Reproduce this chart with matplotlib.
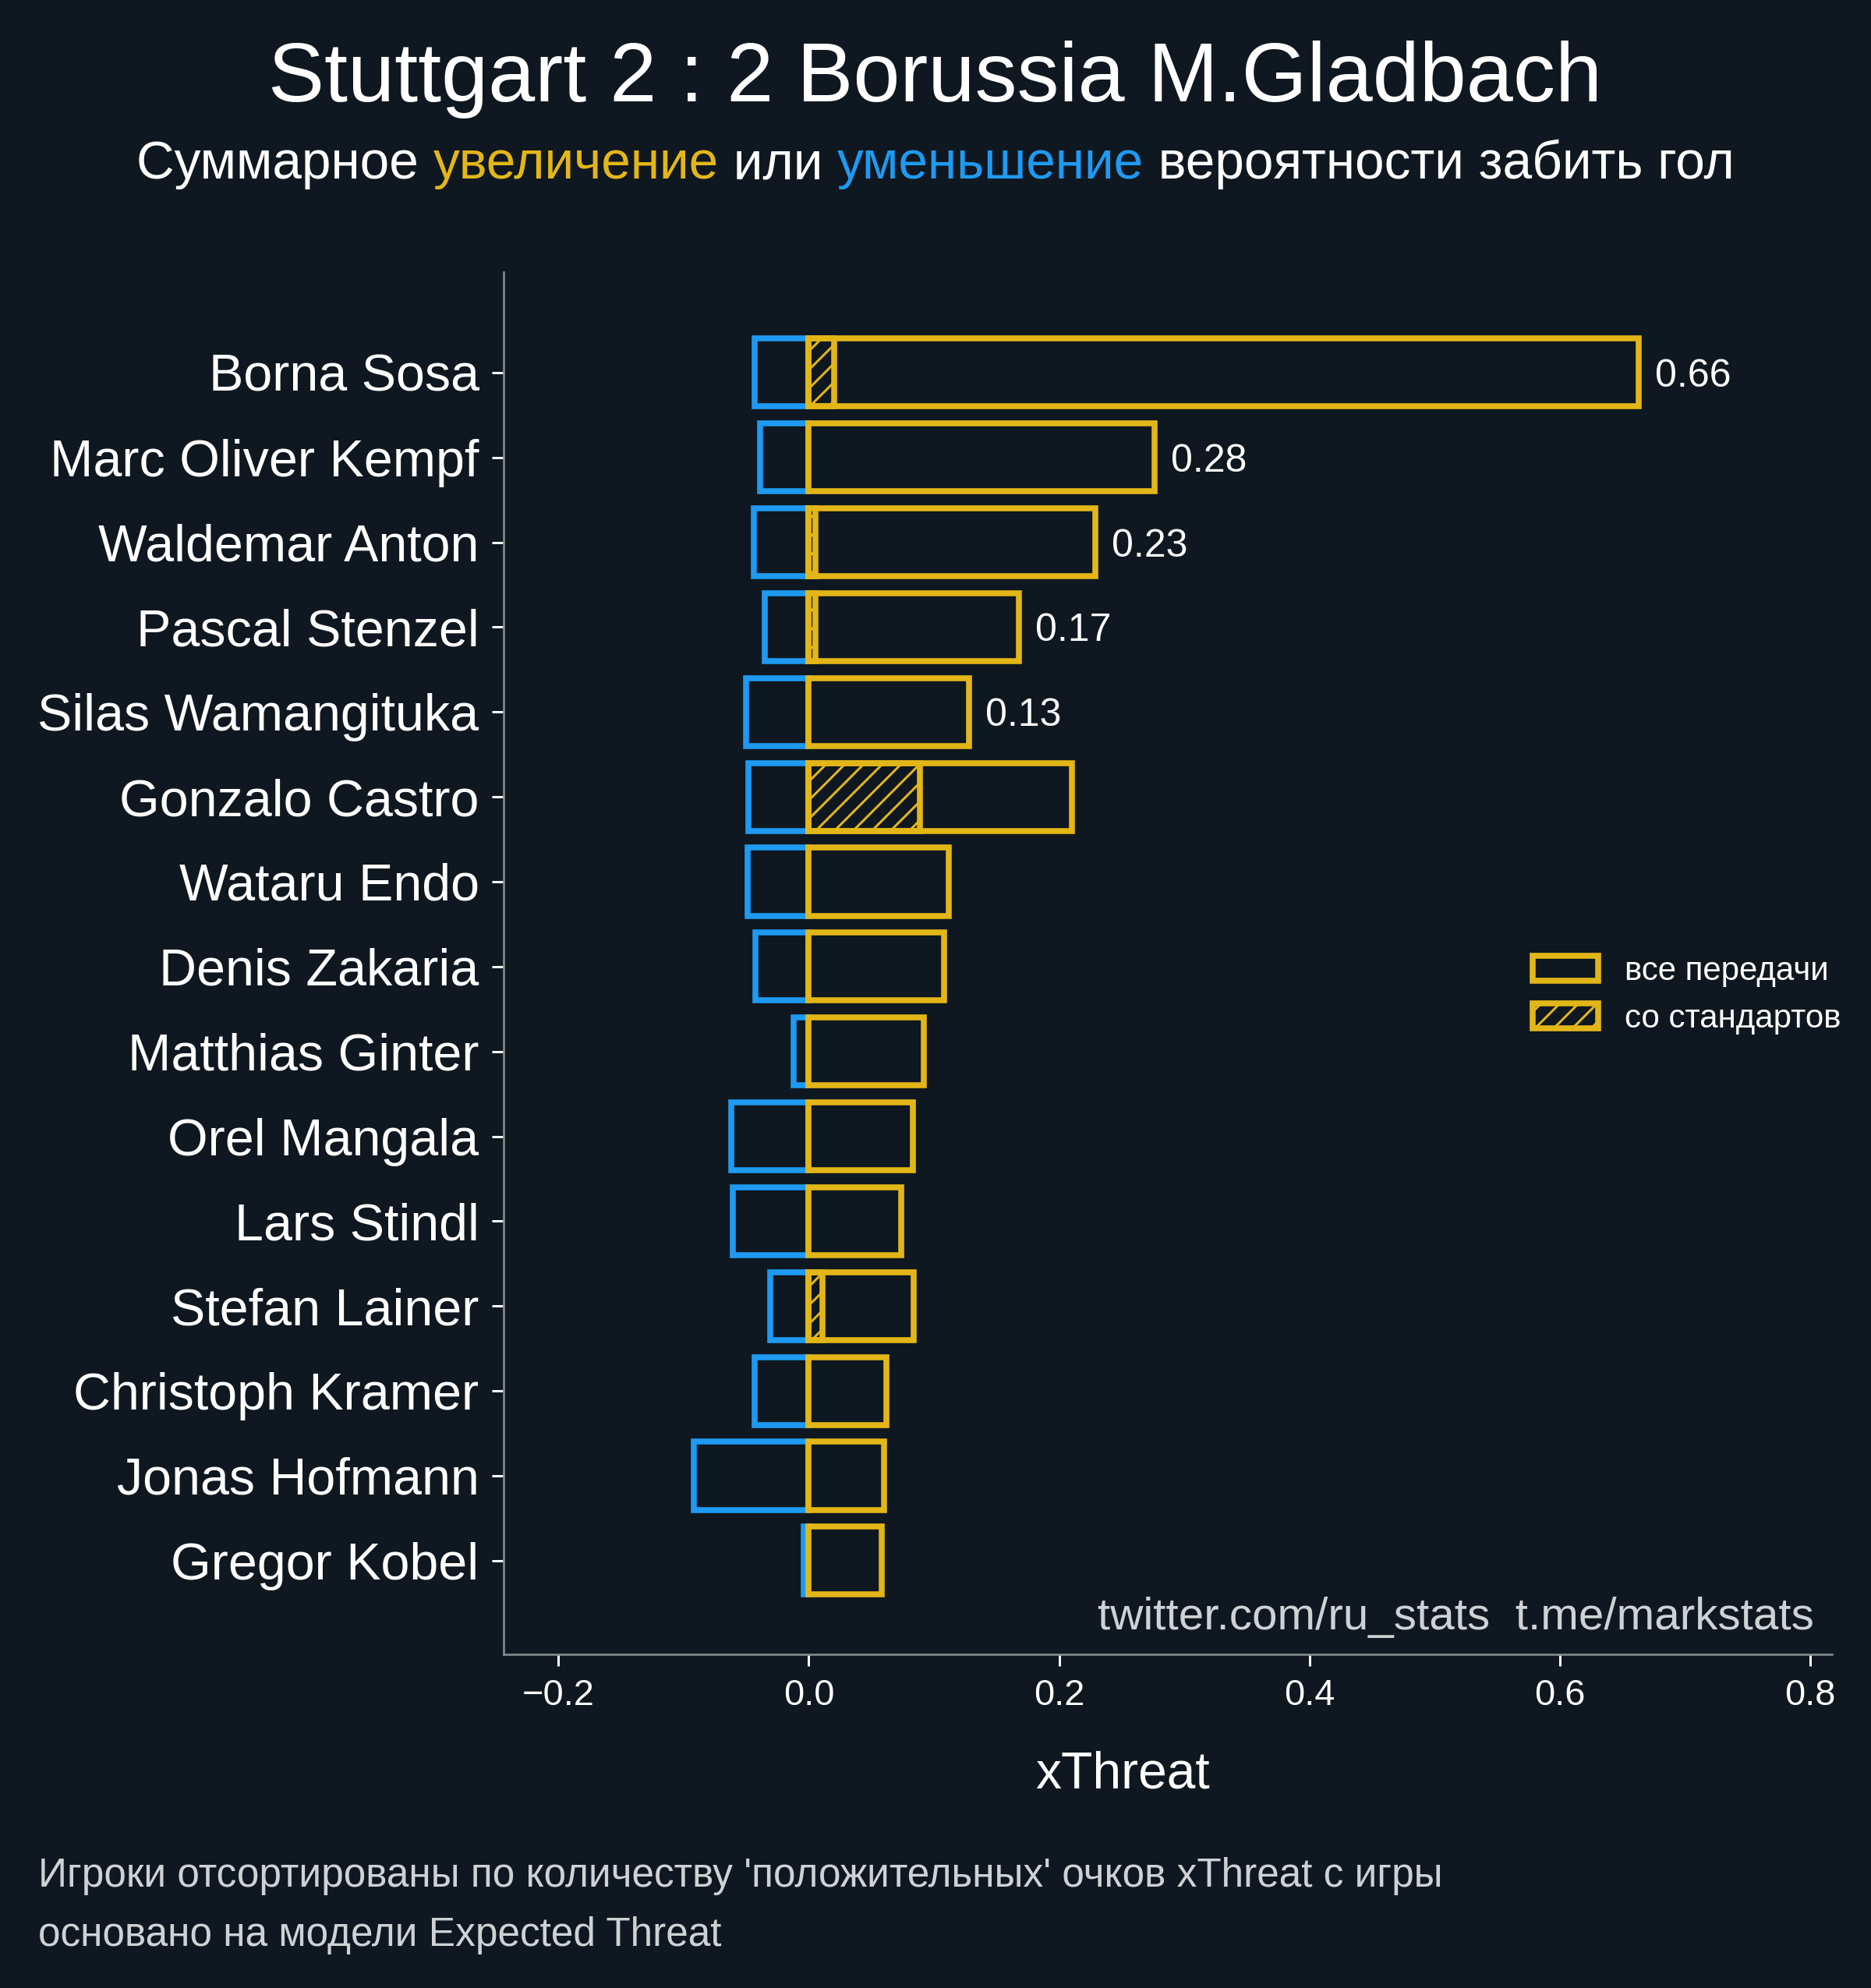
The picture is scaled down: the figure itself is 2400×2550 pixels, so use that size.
import matplotlib
matplotlib.use("Agg")
import matplotlib.pyplot as plt
from matplotlib.patches import Patch
import numpy as np

# ---- data ----
players = ["Borna Sosa", "Marc Oliver Kempf", "Waldemar Anton", "Pascal Stenzel",
           "Silas Wamangituka", "Gonzalo Castro", "Wataru Endo", "Denis Zakaria",
           "Matthias Ginter", "Orel Mangala", "Lars Stindl", "Stefan Lainer",
           "Christoph Kramer", "Jonas Hofmann", "Gregor Kobel"]
negative = [-0.043, -0.039, -0.044, -0.035, -0.050, -0.048, -0.049, -0.0425,
            -0.012, -0.062, -0.061, -0.031, -0.043, -0.092, -0.004]
positive = [0.663, 0.276, 0.229, 0.168, 0.128, 0.210, 0.112, 0.108,
            0.092, 0.083, 0.074, 0.084, 0.062, 0.060, 0.058]
set_pieces = [0.020, 0.0, 0.005, 0.0055, 0.0, 0.0885, 0.0, 0.0,
              0.0, 0.0, 0.0, 0.011, 0.0, 0.0, 0.0]
n_labelled = 5
xticks = [-0.2, 0.0, 0.2, 0.4, 0.6, 0.8]

# ---- style ----
BG = "#0f1820"
YEL = "#e3b618"
BLUE = "#1e9af2"
SPINE = "#7b8c89"
DPI = 144
plt.rcParams["font.family"] = ["Liberation Sans", "DejaVu Sans"]
plt.rcParams["hatch.linewidth"] = 1.5

fig = plt.figure(figsize=(2400 / DPI, 2550 / DPI), dpi=DPI, facecolor=BG)
ax = fig.add_axes([0.269, 0.168, 0.979 - 0.269, 0.863 - 0.168])
ax.set_facecolor(BG)

y = np.arange(len(players))
LW = 3.8
ax.barh(y, negative, height=0.8, facecolor=BG, edgecolor=BLUE, linewidth=LW, zorder=2)
ax.barh(y, positive, height=0.8, facecolor=BG, edgecolor=YEL, linewidth=LW, zorder=3)
sp = np.array(set_pieces)
mask = sp > 0
ax.barh(y[mask], sp[mask], height=0.8, facecolor="none", edgecolor=YEL,
        linewidth=LW, hatch="//", zorder=4)

for i in range(n_labelled):
    ax.text(positive[i] + 0.013, y[i], f"{positive[i]:.2f}", color="white",
            fontsize=25, va="center_baseline", ha="left")

ax.set_xlim(-0.244, 0.817)
ax.set_ylim(len(players) - 1 + 1.1, -1.18)
ax.set_yticks(y)
ax.set_yticklabels(players, fontsize=33.2, color="white")
ax.set_xticks(xticks)
ax.set_xticklabels([f"{t:.1f}".replace("-", "\u2212") for t in xticks], fontsize=23.5, color="white")
ax.tick_params(axis="both", colors="white", length=7.5, width=1.5, pad=8)
for s in ["top", "right"]:
    ax.spines[s].set_visible(False)
for s in ["left", "bottom"]:
    ax.spines[s].set_color(SPINE)
    ax.spines[s].set_linewidth(1.35)

leg_handles = [Patch(facecolor=BG, edgecolor=YEL, linewidth=LW, label="все передачи"),
               Patch(facecolor=BG, edgecolor=YEL, linewidth=LW, hatch="//", label="со стандартов")]
fig.legend(handles=leg_handles, loc="center right", bbox_to_anchor=(0.9995, 0.4995),
           frameon=False, fontsize=21, labelcolor="white", handlelength=2.0,
           handleheight=0.8, labelspacing=0.5, handletextpad=0.8)

# titles
fig.text(0.5, 1 - 130 / 2550, "Stuttgart 2 : 2 Borussia M.Gladbach", color="white",
         fontsize=54, ha="center", va="baseline")

SUB_FS = 33.75
parts = [("Суммарное ", "white"), ("увеличение", YEL), (" или ", "white"),
         ("уменьшение", BLUE), (" вероятности забить гол", "white")]
renderer = fig.canvas.get_renderer()
sub_y = 1 - 229 / 2550


def text_width(s):
    tmp = fig.text(0, sub_y, s, fontsize=SUB_FS, alpha=0)
    w = tmp.get_window_extent(renderer).width / fig.bbox.width
    tmp.remove()
    return w


total = text_width("".join(p for p, _ in parts))
start = 0.5 - total / 2
cum = ""
for s, c in parts:
    off = text_width(cum) if cum else 0.0
    fig.text(start + off, sub_y, s, color=c, fontsize=SUB_FS, ha="left", va="baseline")
    cum += s

fig.text(1440 / 2400, 1 - 2293 / 2550, "xThreat", color="white", fontsize=33,
         ha="center", va="baseline")
fig.text(2327 / 2400, 1 - 2090 / 2550, "twitter.com/ru_stats  t.me/markstats",
         color="#cfd2d4", fontsize=29.2, ha="right", va="baseline")
fig.text(49 / 2400, 1 - 2420 / 2550,
         "Игроки отсортированы по количеству 'положительных' очков xThreat с игры",
         color="#cfd2d4", fontsize=25.7, ha="left", va="baseline")
fig.text(49 / 2400, 1 - 2496 / 2550, "основано на модели Expected Threat",
         color="#cfd2d4", fontsize=25.7, ha="left", va="baseline")

fig.savefig("out.png", dpi=DPI, facecolor=BG)
